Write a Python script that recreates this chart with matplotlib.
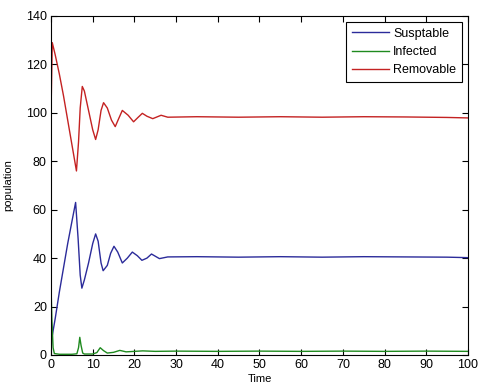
import matplotlib.pyplot as plt

plt.rcParams['font.family'] = ['Liberation Sans', 'DejaVu Sans']

# values
t_sus = [0, 0.3, 1, 2, 3, 4, 5, 5.9, 6.5, 7.0, 7.4, 8, 9, 10, 10.7, 11.3, 12, 12.5,
         13.5, 14.3, 15.1, 16, 17.1, 18.3, 19.5, 20.7, 21.8, 23, 24.1, 26, 28, 35,
         45, 55, 65, 75, 85, 95, 100]
sus = [2, 8, 15, 26, 36, 46, 55, 63, 48, 33, 27.6, 31, 38, 46, 50, 47, 38, 34.8,
       37, 42, 44.9, 42.5, 38, 40, 42.5, 41, 39.1, 40, 41.7, 39.8, 40.5, 40.6,
       40.4, 40.6, 40.4, 40.6, 40.5, 40.4, 40.2]

t_inf = [0, 0.2, 0.5, 0.8, 2, 5, 6.2, 6.6, 6.9, 7.2, 7.6, 8, 10, 11, 11.8, 12.6,
         13.5, 15, 16.5, 18, 20, 22, 25, 30, 40, 50, 60, 70, 80, 90, 100]
inf = [28.5, 15, 3, 0.6, 0.3, 0.3, 0.5, 3, 7.3, 4, 0.8, 0.4, 0.4, 1, 3, 1.8,
       0.8, 1.1, 1.9, 1.3, 1.5, 1.7, 1.5, 1.6, 1.5, 1.6, 1.5, 1.6, 1.5, 1.6, 1.5]

t_rem = [0, 0.3, 1, 2, 3, 4, 5, 6.1, 6.6, 7.0, 7.5, 8, 9, 10, 10.7, 11.3, 12,
         12.6, 13.5, 14.5, 15.4, 16.2, 17.1, 18.5, 19.8, 20.8, 21.9, 23, 24.4,
         26.4, 28, 35, 45, 55, 65, 75, 85, 95, 100]
rem = [100, 129, 124, 116, 107, 97, 87, 76, 88, 102, 110.9, 109, 101, 93, 89,
       93, 101, 104.2, 102, 97, 94.3, 97.5, 101, 99, 96.3, 98, 99.8, 98.6, 97.6,
       99, 98.2, 98.4, 98.2, 98.4, 98.2, 98.4, 98.3, 98.1, 97.9]

fig = plt.figure(figsize=(4.79, 3.87), dpi=100)
ax = fig.add_axes([0.1065, 0.0827, 0.8705, 0.876])

ax.plot(t_sus, sus, color='#2b2b9a', linewidth=1, label='Susptable')
ax.plot(t_inf, inf, color='#1f8a1f', linewidth=1, label='Infected')
ax.plot(t_rem, rem, color='#c42222', linewidth=1, label='Removable')

ax.set_xlim(0, 100)
ax.set_ylim(0, 140)
ax.set_xticks(range(0, 101, 10))
ax.set_yticks(range(0, 141, 20))
ax.tick_params(direction='in', length=4, width=0.8, labelsize=9,
               top=True, right=True, pad=3)
for s in ax.spines.values():
    s.set_linewidth(0.8)

ax.set_xlabel('Time', fontsize=8, labelpad=2)
ax.set_ylabel('population', fontsize=8, labelpad=9)

leg = ax.legend(loc='upper right', fancybox=False, framealpha=1,
                edgecolor='black', fontsize=9, handlelength=3.0,
                handletextpad=0.3, borderaxespad=0.5, labelspacing=0.5,
                borderpad=0.45)
leg.get_frame().set_linewidth(0.8)

fig.savefig('out.png', dpi=100)
